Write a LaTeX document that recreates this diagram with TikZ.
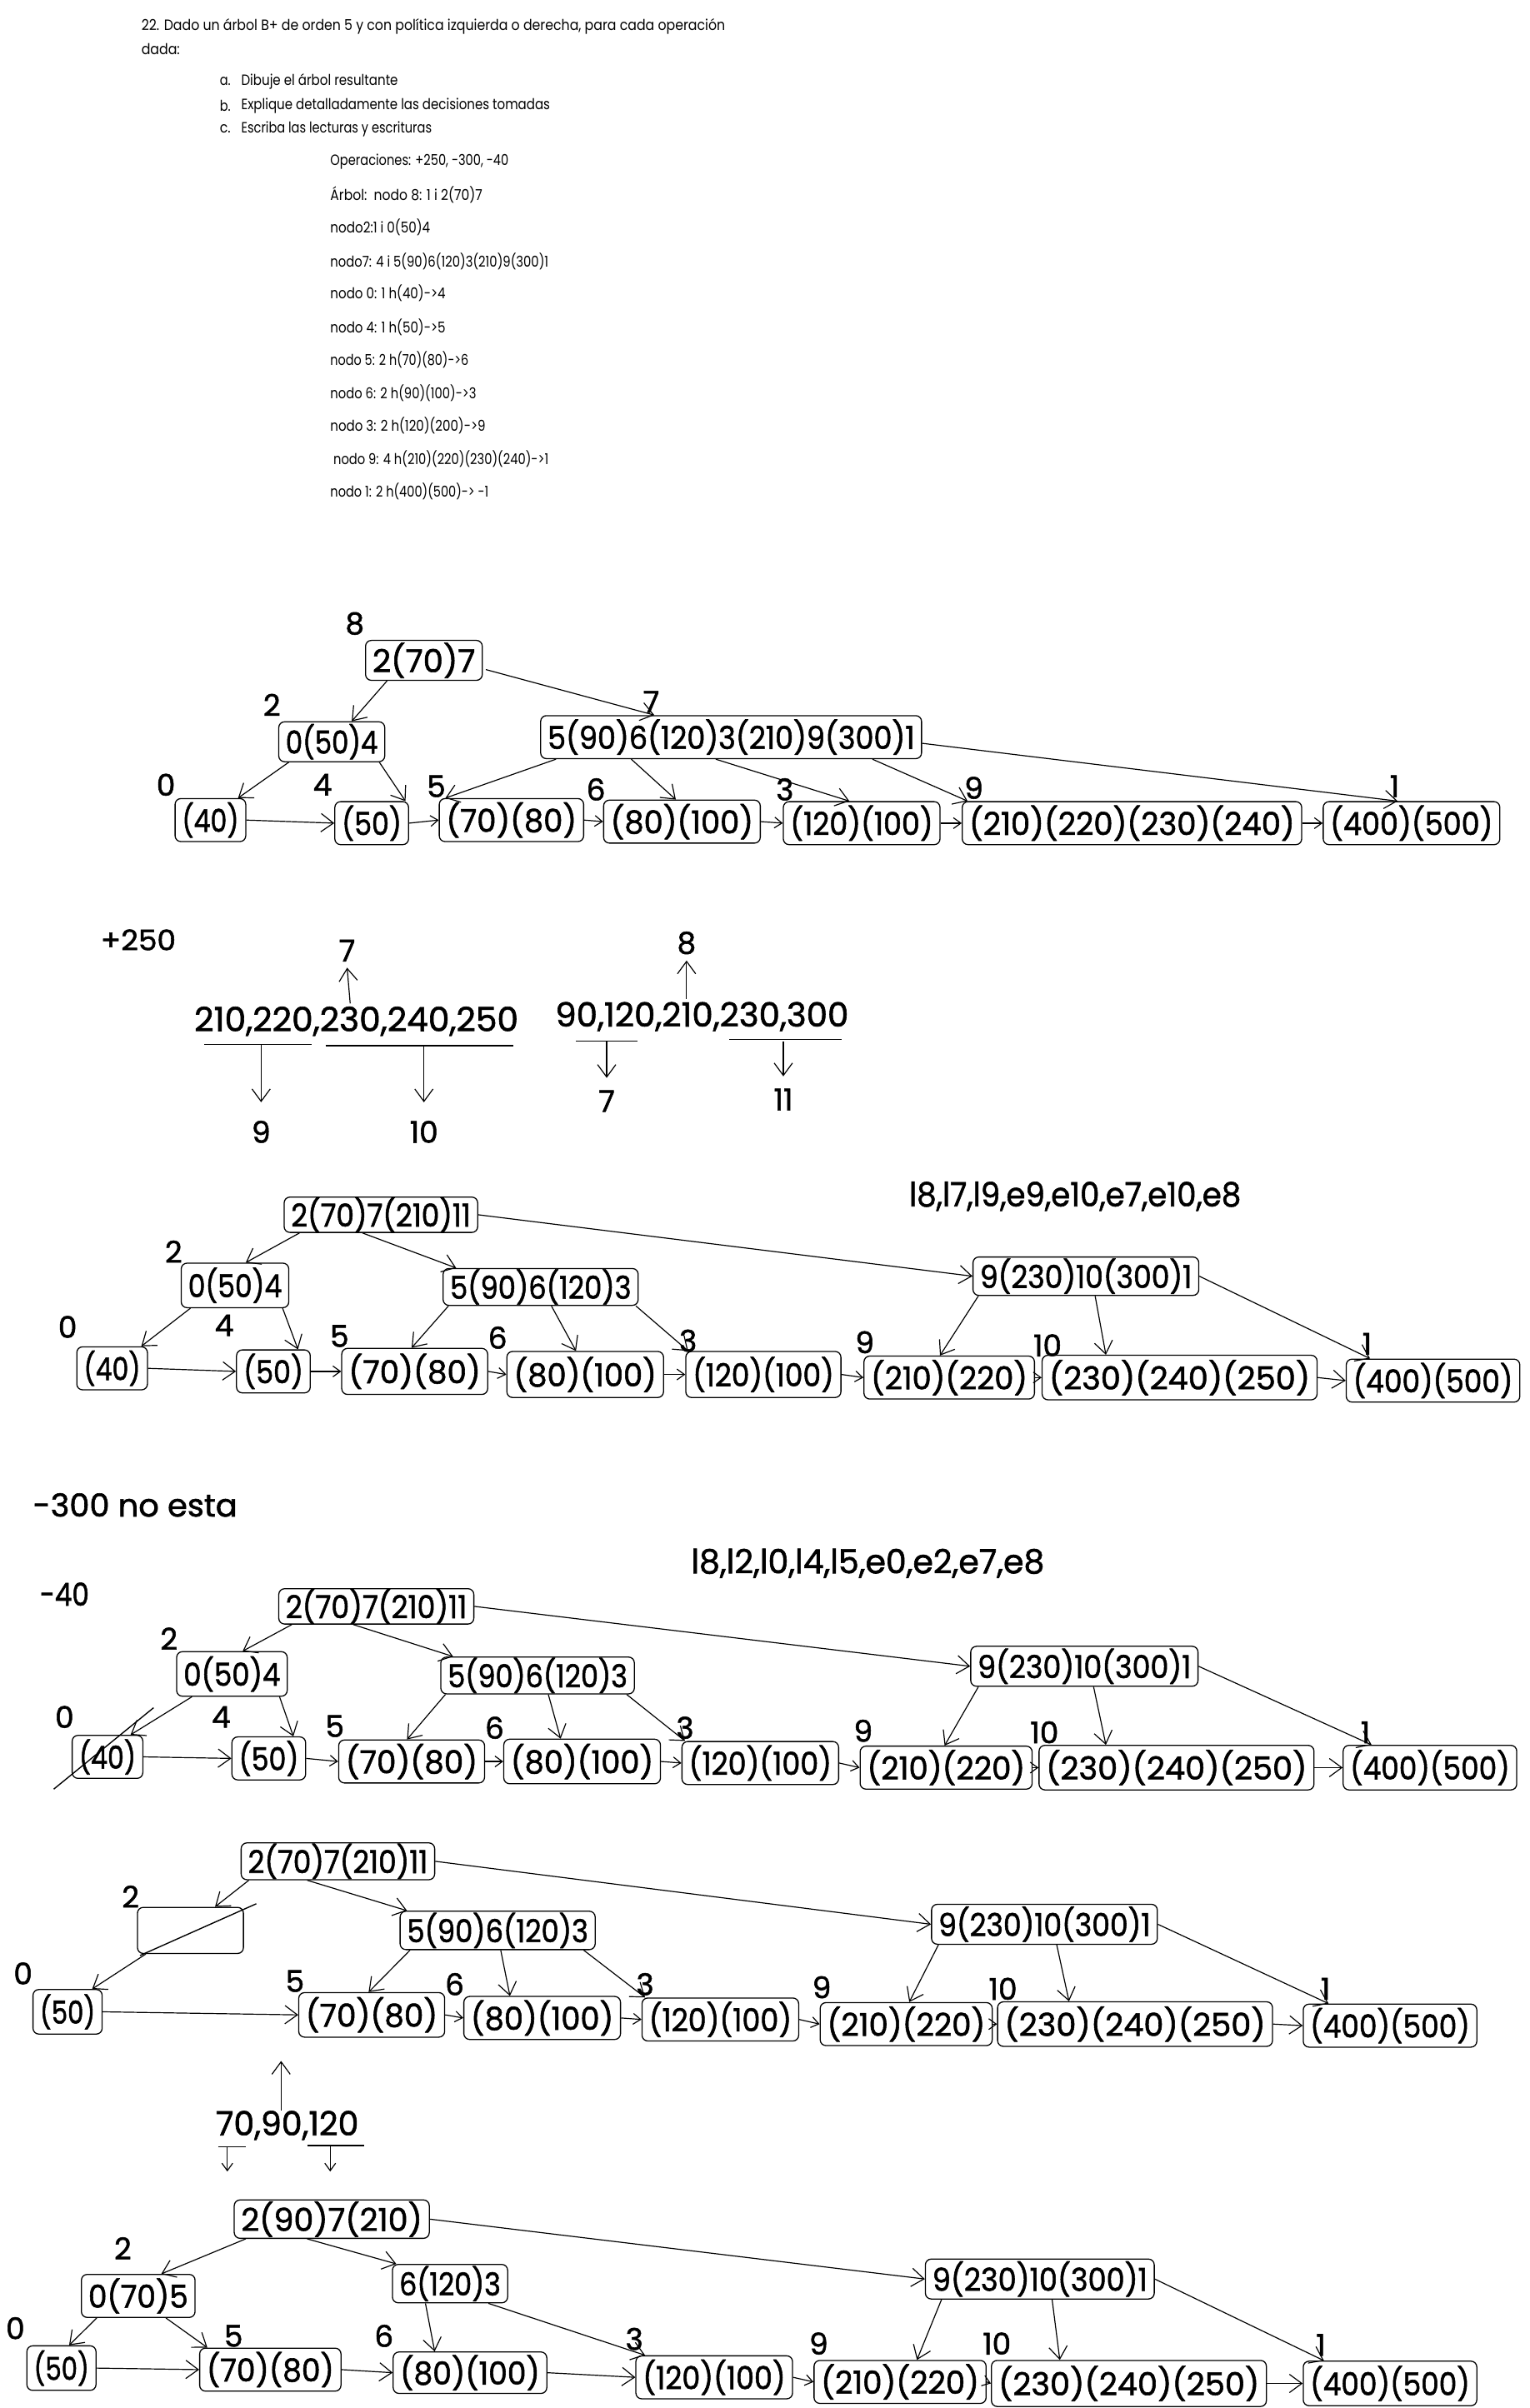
\documentclass[tikz,border=0pt]{standalone}
\usepackage{fontspec}
\usepackage{graphicx}
\usetikzlibrary{arrows.meta,calc}
\newfontfamily\hw[FakeBold=1.5]{Poppins}
\newfontfamily\pf{Poppins}
\newdimen\myu \myu=0.065cm
\tikzset{
 bx/.style={draw, rounded corners=7pt, line width=1.3pt, inner sep=0pt, font=\hw\fontsize{38}{38}\selectfont},
 ar/.style={-{Straight Barb[length=15pt,width=22pt]}, line width=1.2pt},
 ch/.style={-{Straight Barb[length=9pt,width=13pt]}, line width=1.2pt},
 lab/.style={inner sep=0pt, font=\hw\fontsize{36}{36}\selectfont},
 ln/.style={line width=1.4pt}
}
\newcommand\bn[6]{\node[bx, minimum width=#4*0.065cm, minimum height=#5*0.065cm] (#1) at (#2,#3) {\resizebox{\dimexpr#4\myu-9\myu\relax}{\height}{#6}};}
\newcommand\lb[4]{\node[lab] (#1) at (#2,#3) {#4};}
\newcommand\tl[5]{\node[anchor=west, inner sep=0pt, font=\pf\fontsize{18}{18}\selectfont] (#1) at (#2,#3) {\resizebox{#4\myu}{\height}{#5}};}
\newcommand\hwt[6]{\node[inner sep=0pt, font=\hw\fontsize{#5}{#5}\selectfont] (#1) at (#2,#3) {\resizebox{#4\myu}{\height}{#6}};}
\begin{document}
\begin{tikzpicture}[x=0.065cm,y=-0.065cm]
\fill[white] (0,0) rectangle (996,1568);
\useasboundingbox (0,0) rectangle (996,1568);
% ---------------- top text
\tl{t1}{92}{17}{380}{22. Dado un árbol B+ de orden 5 y con política izquierda o derecha, para cada operación}
\tl{t2}{92}{32}{25}{dada:}
\tl{ta}{143}{53}{7}{a.}
\tl{tat}{157}{53}{102}{Dibuje el árbol resultante}
\tl{tb}{143}{69}{7}{b.}
\tl{tbt}{157}{69}{201}{Explique detalladamente las decisiones tomadas}
\tl{tc}{143}{84}{7}{c.}
\tl{tct}{157}{84}{124}{Escriba las lecturas y escrituras}
\tl{t3}{215}{105}{116}{Operaciones: +250, -300, -40}
\tl{t4}{215}{127}{99}{Árbol:\ \ nodo 8: 1 i 2(70)7}
\tl{t5}{215}{148}{65}{nodo2:1 i 0(50)4}
\tl{t6}{215}{170}{142}{nodo7: 4 i 5(90)6(120)3(210)9(300)1}
\tl{t7}{215}{191}{75}{nodo 0: 1 h(40)->4}
\tl{t8}{215}{213}{75}{nodo 4: 1 h(50)->5}
\tl{t9}{215}{234}{90}{nodo 5: 2 h(70)(80)->6}
\tl{t10}{215}{256}{95}{nodo 6: 2 h(90)(100)->3}
\tl{t11}{215}{277}{101}{nodo 3: 2 h(120)(200)->9}
\tl{t12}{217}{299}{140}{nodo 9: 4 h(210)(220)(230)(240)->1}
\tl{t13}{215}{320}{103}{nodo 1: 2 h(400)(500)-> -1}
% ---------------- tree 1
\lb{la8}{231}{406}{8}
\bn{a8}{276}{430}{76}{26}{2(70)7}
\lb{la2}{177}{459}{2}
\bn{a2}{216}{483}{69}{26}{0(50)4}
\lb{la7}{424}{457}{7}
\bn{a7}{476}{480}{248}{28}{5(90)6(120)3(210)9(300)1}
\lb{la0}{108}{511}{0}
\bn{a0}{137}{534}{46}{28}{(40)}
\lb{la4}{210}{511}{4}
\bn{a4}{242}{536}{48}{28}{(50)}
\lb{la5}{284}{512}{5}
\bn{a5}{333}{534}{94}{28}{(70)(80)}
\lb{la6}{388}{514}{6}
\bn{a6}{444}{535}{102}{28}{(80)(100)}
\lb{la3}{511}{514}{3}
\bn{a3}{561}{536}{102}{28}{(120)(100)}
\lb{la9}{634}{513}{9}
\bn{a9}{737}{536}{221}{28}{(210)(220)(230)(240)}
\lb{la1}{908}{512}{1}
\bn{a1}{919}{536}{115}{28}{(400)(500)}
\draw[ar] ($(a8.south)+(-24,0)$) -- ($(a2.north)+(13,0)$);
\draw[ar] ($(a8.east)+(2,6)$) -- ($(a7.north)+(-50,0)$);
\draw[ar] ($(a2.south)+(-28,0)$) -- ($(a0.north)+(18,0)$);
\draw[ar] ($(a2.south)+(31,0)$) -- ($(a4.north)+(22,0)$);
\draw[ar] ($(a7.south)+(-114,0)$) -- ($(a5.north)+(-43,0)$);
\draw[ar] ($(a7.south)+(-65,0)$) -- ($(a6.north)+(-4,0)$);
\draw[ar] ($(a7.south)+(-10,0)$) -- ($(a3.north)+(-8,0)$);
\draw[ar] ($(a7.south)+(92,0)$) -- ($(a9.north)+(-107,0)$);
\draw[ar] ($(a7.east)+(0,4)$) -- ($(a1.north)+(-9,0)$);
\draw[ar] (a0.east) -- (a4.west);
\draw[ch] (a4.east) -- (a5.west);
\draw[ch] (a5.east) -- (a6.west);
\draw[ch] (a6.east) -- (a3.west);
\draw[ch] (a3.east) -- (a9.west);
\draw[ch] (a9.east) -- (a1.west);
% ---------------- +250
\hwt{p250}{90}{612}{49}{34}{+250}
\hwt{s1}{232}{665}{211}{40}{210,220,230,240,250}
\draw[ln] (133,680) -- (203,680);
\draw[ln] (212,681) -- (334,681);
\lb{s1a}{226}{619}{7}
\lb{s1b}{170}{737}{9}
\lb{s1c}{276}{737}{10}
\draw[ar] ($(s1.north)+(-4,-2)$) -- ($(s1a.south)+(0,4)$);
\coordinate (u1) at (170,680);
\coordinate (u2) at (276,681);
\draw[ar] (u1) -- ($(s1b.north)+(0,-12)$);
\draw[ar] (u2) -- ($(s1c.north)+(0,-12)$);
\hwt{s2}{457}{662}{191}{40}{90,120,210,230,300}
\draw[ln] (375,678) -- (415,678);
\draw[ln] (475,677) -- (548,677);
\lb{s2a}{447}{614}{8}
\lb{s2b}{395}{717}{7}
\lb{s2c}{510}{716}{11}
\draw[ar] ($(s2.north)+(-10,-2)$) -- ($(s2a.south)+(0,4)$);
\coordinate (u3) at (395,678);
\coordinate (u4) at (510,678);
\draw[ar] (u3) -- ($(s2b.north)+(0,-8)$);
\draw[ar] (u4) -- ($(s2c.north)+(0,-8)$);
% ---------------- tree 2
\hwt{rd1}{700}{779}{216}{40}{l8,l7,l9,e9,e10,e7,e10,e8}
\bn{b8}{248}{791}{126}{22}{2(70)7(210)11}
\lb{lb2}{113}{815}{2}
\bn{b2}{153}{837}{70}{29}{0(50)4}
\bn{b7}{352}{838}{127}{24}{5(90)6(120)3}
\bn{b11}{707}{831}{147}{25}{9(230)10(300)1}
\lb{lb0}{44}{864}{0}
\bn{b0}{73}{891}{46}{28}{(40)}
\lb{lb4}{146}{863}{4}
\bn{b4}{178}{893}{48}{28}{(50)}
\lb{lb5}{221}{870}{5}
\bn{b5}{270}{893}{95}{30}{(70)(80)}
\lb{lb6}{324}{871}{6}
\bn{b6}{381}{895}{102}{30}{(80)(100)}
\lb{lb3}{448}{873}{3}
\bn{b3}{497}{895}{101}{30}{(120)(100)}
\lb{lb9}{563}{874}{9}
\bn{b9}{618}{897}{111}{28}{(210)(220)}
\lb{lb10}{682}{876}{10}
\bn{b10}{768}{897}{179}{29}{(230)(240)(250)}
\lb{lb1}{890}{875}{1}
\bn{b1}{933}{899}{113}{28}{(400)(500)}
\draw[ar] ($(b8.south)+(-53,0)$) -- ($(b2.north)+(7,0)$);
\draw[ar] ($(b8.south)+(-12,0)$) -- ($(b7.north)+(-55,0)$);
\draw[ar] (b8.east) -- (b11.west);
\draw[ar] ($(b2.south)+(-29,0)$) -- ($(b0.north)+(19,0)$);
\draw[ar] ($(b2.south)+(31,0)$) -- ($(b4.north)+(16,0)$);
\draw[ar] ($(b7.south)+(-60,0)$) -- ($(b5.north)+(-2,0)$);
\draw[ar] ($(b7.south)+(7,0)$) -- ($(b6.north)+(-6,0)$);
\draw[ar] ($(b7.south)+(62,0)$) -- ($(b3.north)+(-49,0)$);
\draw[ar] ($(b11.south)+(-70,0)$) -- ($(b9.north)+(-6,0)$);
\draw[ar] ($(b11.south)+(6,0)$) -- ($(b10.north)+(-48,0)$);
\draw[ar] (b11.east) -- ($(b1.north)+(-41,0)$);
\draw[ar] (b0.east) -- (b4.west);
\draw[ch] (b4.east) -- (b5.west);
\draw[ch] (b5.east) -- (b6.west);
\draw[ch] (b6.east) -- (b3.west);
\draw[ch] (b3.east) -- (b9.west);
\draw[ch] (b9.east) -- (b10.west);
\draw[ar] (b10.east) -- (b1.west);
% ---------------- -300, -40
\hwt{m300}{88}{980}{133}{38}{-300 no esta}
\hwt{m40}{42}{1038}{32}{38}{-40}
\hwt{rd2}{565}{1018}{230}{40}{l8,l2,l0,l4,l5,e0,e2,e7,e8}
% ---------------- tree 3
\bn{c8}{245}{1046}{127}{23}{2(70)7(210)11}
\lb{lc2}{110}{1067}{2}
\bn{c2}{151}{1090}{72}{29}{0(50)4}
\bn{c7}{350}{1091}{126}{24}{5(90)6(120)3}
\bn{c11}{706}{1085}{148}{26}{9(230)10(300)1}
\lb{lc0}{42}{1118}{0}
\bn{c0}{70}{1144}{46}{28}{(40)}
\lb{lc4}{144}{1118}{4}
\bn{c4}{175}{1145}{48}{28}{(50)}
\lb{lc5}{218}{1124}{5}
\bn{c5}{268}{1147}{95}{28}{(70)(80)}
\lb{lc6}{322}{1125}{6}
\bn{c6}{379}{1147}{102}{29}{(80)(100)}
\lb{lc3}{446}{1125}{3}
\bn{c3}{495}{1148}{102}{28}{(120)(100)}
\lb{lc9}{562}{1127}{9}
\bn{c9}{616}{1151}{112}{28}{(210)(220)}
\lb{lc10}{680}{1128}{10}
\bn{c10}{766}{1151}{179}{29}{(230)(240)(250)}
\lb{lc1}{889}{1128}{1}
\bn{c1}{931}{1151}{113}{29}{(400)(500)}
\draw[ar] ($(c8.south)+(-55,0)$) -- ($(c2.north)+(7,0)$);
\draw[ar] ($(c8.south)+(-15,0)$) -- ($(c7.north)+(-55,0)$);
\draw[ar] (c8.east) -- (c11.west);
\draw[ar] ($(c2.south)+(-26,0)$) -- ($(c0.north)+(15,0)$);
\draw[ar] ($(c2.south)+(31,0)$) -- ($(c4.north)+(16,0)$);
\draw[ar] ($(c7.south)+(-60,0)$) -- ($(c5.north)+(-3,0)$);
\draw[ar] ($(c7.south)+(7,0)$) -- ($(c6.north)+(-14,0)$);
\draw[ar] ($(c7.south)+(58,0)$) -- ($(c3.north)+(-49,0)$);
\draw[ar] ($(c11.south)+(-69,0)$) -- ($(c9.north)+(-1,0)$);
\draw[ar] ($(c11.south)+(6,0)$) -- ($(c10.north)+(-46,0)$);
\draw[ar] (c11.east) -- ($(c1.north)+(-38,0)$);
\draw[ar] (c0.east) -- (c4.west);
\draw[ch] (c4.east) -- (c5.west);
\draw[ch] (c5.east) -- (c6.west);
\draw[ch] (c6.east) -- (c3.west);
\draw[ch] (c3.east) -- (c9.west);
\draw[ch] (c9.east) -- (c10.west);
\draw[ar] (c10.east) -- (c1.west);
\draw[ln] (35,1165) -- (100,1112);
% ---------------- tree 4
\bn{d8}{220}{1212}{126}{24}{2(70)7(210)11}
\lb{ld2}{85}{1235}{2}
\node[bx, minimum width=69*0.065cm, minimum height=30*0.065cm] (d2) at (124,1257) {};
\bn{d7}{324}{1257}{127}{25}{5(90)6(120)3}
\bn{d11}{680}{1253}{147}{26}{9(230)10(300)1}
\lb{ld0}{15}{1285}{0}
\bn{d0}{44}{1310}{45}{29}{(50)}
\lb{ld5}{192}{1290}{5}
\bn{d5}{242}{1312}{95}{29}{(70)(80)}
\lb{ld6}{296}{1292}{6}
\bn{d6}{353}{1314}{102}{28}{(80)(100)}
\lb{ld3}{420}{1292}{3}
\bn{d3}{469}{1315}{102}{28}{(120)(100)}
\lb{ld9}{535}{1294}{9}
\bn{d9}{590}{1318}{112}{28}{(210)(220)}
\lb{ld10}{653}{1295}{10}
\bn{d10}{739}{1318}{179}{29}{(230)(240)(250)}
\lb{ld1}{863}{1295}{1}
\bn{d1}{905}{1319}{113}{28}{(400)(500)}
\draw[ar] ($(d8.south)+(-58,0)$) -- ($(d2.north)+(16,0)$);
\draw[ln] ($(d2.north east)+(8,-2)$) -- ($(d2.south west)+(2,1)$);
\draw[ar] ($(d2.south)+(-29,0)$) -- ($(d0.north)+(16,0)$);
\draw[ar] ($(d8.south)+(-20,0)$) -- ($(d7.north)+(-59,0)$);
\draw[ar] (d8.east) -- (d11.west);
\draw[ar] ($(d7.south)+(-57,0)$) -- ($(d5.north)+(-2,0)$);
\draw[ar] ($(d7.south)+(2,0)$) -- ($(d6.north)+(-21,0)$);
\draw[ar] ($(d7.south)+(56,0)$) -- ($(d3.north)+(-49,0)$);
\draw[ar] ($(d11.south)+(-69,0)$) -- ($(d9.north)+(2,0)$);
\draw[ar] ($(d11.south)+(8,0)$) -- ($(d10.north)+(-43,0)$);
\draw[ar] (d11.east) -- ($(d1.north)+(-40,0)$);
\draw[ar] (d0.east) -- (d5.west);
\draw[ch] (d5.east) -- (d6.west);
\draw[ch] (d6.east) -- (d3.west);
\draw[ch] (d3.east) -- (d9.west);
\draw[ch] (d9.east) -- (d10.west);
\draw[ar] (d10.east) -- (d1.west);
% ---------------- 70,90,120
\hwt{s3}{187}{1384}{93}{40}{70,90,120}
\coordinate (up3) at (183,1342);
\draw[ar] ($(s3.north)+(-4,0)$) -- (up3);
\draw[ln] (142,1398) -- (160,1398);
\draw[ln] (200,1397) -- (237,1397);
\coordinate (v1a) at (148,1398);
\coordinate (v1b) at (148,1414);
\coordinate (v2a) at (215,1397);
\coordinate (v2b) at (215,1414);
\draw[ch] (v1a) -- (v1b);
\draw[ch] (v2a) -- (v2b);
% ---------------- tree 5
\bn{e8}{216}{1445}{127}{25}{2(90)7(210)}
\lb{le2}{80}{1464}{2}
\bn{e2}{90}{1495}{74}{28}{0(70)5}
\bn{e7}{293}{1487}{75}{25}{6(120)3}
\bn{e11}{677}{1484}{149}{26}{9(230)10(300)1}
\lb{le0}{10}{1516}{0}
\bn{e0}{40}{1542}{45}{29}{(50)}
\lb{le5}{152}{1521}{5}
\bn{e5}{176}{1543}{92}{28}{(70)(80)}
\lb{le6}{250}{1521}{6}
\bn{e6}{306}{1545}{100}{27}{(80)(100)}
\lb{le3}{413}{1523}{3}
\bn{e3}{465}{1548}{102}{28}{(120)(100)}
\lb{le9}{533}{1526}{9}
\bn{e9}{586}{1551}{112}{28}{(210)(220)}
\lb{le10}{649}{1526}{10}
\bn{e10}{735}{1552}{179}{30}{(230)(240)(250)}
\lb{le1}{860}{1527}{1}
\bn{e1}{905}{1552}{113}{29}{(400)(500)}
\draw[ar] ($(e8.south)+(-56,0)$) -- ($(e2.north)+(15,0)$);
\draw[ar] ($(e8.south)+(-16,0)$) -- ($(e7.north)+(-35,0)$);
\draw[ar] (e8.east) -- (e11.west);
\draw[ar] ($(e2.south)+(-27,0)$) -- ($(e0.north)+(5,0)$);
\draw[ar] ($(e2.south)+(18,0)$) -- ($(e5.north)+(-41,0)$);
\draw[ar] ($(e7.south)+(-16,0)$) -- ($(e6.north)+(-23,0)$);
\draw[ar] ($(e7.south)+(25,0)$) -- ($(e3.north)+(-45,0)$);
\draw[ar] ($(e11.south)+(-64,0)$) -- ($(e9.north)+(11,0)$);
\draw[ar] ($(e11.south)+(8,0)$) -- ($(e10.north)+(-45,0)$);
\draw[ar] (e11.east) -- ($(e1.north)+(-43,0)$);
\draw[ar] (e0.east) -- (e5.west);
\draw[ar] (e5.east) -- (e6.west);
\draw[ar] (e6.east) -- (e3.west);
\draw[ch] (e3.east) -- (e9.west);
\draw[ch] (e9.east) -- (e10.west);
\draw[ar] (e10.east) -- (e1.west);
\end{tikzpicture}
\end{document}
